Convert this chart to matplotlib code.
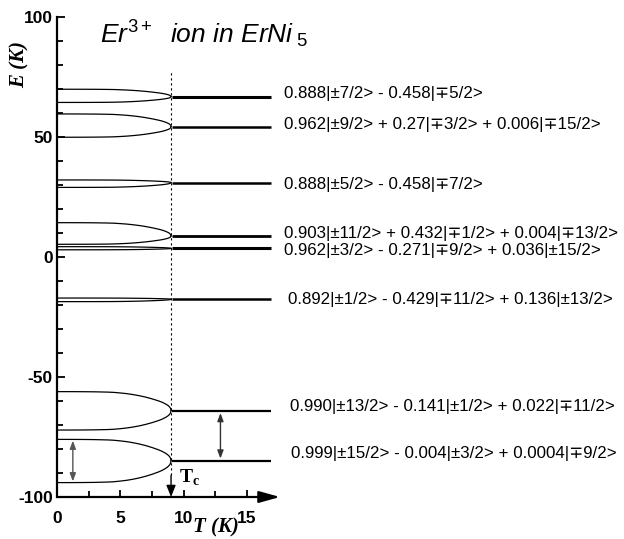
# Crystal-field levels of Er3+ in ErNi5 vs temperature

import numpy as np
from matplotlib import pyplot as plt

plt.rcParams['mathtext.fontset'] = 'custom'
plt.rcParams['mathtext.it'] = 'Liberation Sans:italic'
plt.rcParams['mathtext.rm'] = 'Liberation Sans'
plt.rcParams['axes.unicode_minus'] = False

Tc = 9.0

# doublet energies above Tc (K)
levels = [66.8, 54.3, 31.0, 8.75, 3.6, -17.6, -64.0, -84.9]
# split branches at T = 0 (upper, lower)
split_upper = [69.9, 59.6, 32.1, 14.3, 4.3, -17.1, -56.1, -76.0]
split_lower = [64.4, 49.9, 29.0, 5.3, 3.0, -18.6, -72.1, -94.0]

# order-parameter profile
t_prof = [0, 1, 2, 3, 4, 4.5, 5, 5.5, 6, 6.5, 7, 7.5, 8, 8.3, 8.6, 8.8, 8.9, 8.97, 9.0]
m_prof = [1, 1, 0.997, 0.99, 0.975, 0.96, 0.93, 0.895, 0.845, 0.785, 0.71, 0.62,
          0.515, 0.44, 0.34, 0.25, 0.18, 0.1, 0.0]

labels = [
    '0.888|±7/2> - 0.458|∓5/2>',
    '0.962|±9/2> + 0.27|∓3/2> + 0.006|∓15/2>',
    '0.888|±5/2> - 0.458|∓7/2>',
    '0.903|±11/2> + 0.432|∓1/2> + 0.004|∓13/2>',
    '0.962|±3/2> - 0.271|∓9/2> + 0.036|±15/2>',
    '0.892|±1/2> - 0.429|∓11/2> + 0.136|±13/2>',
    '0.990|±13/2> - 0.141|±1/2> + 0.022|∓11/2>',
    '0.999|±15/2> - 0.004|±3/2> + 0.0004|∓9/2>',
]

# label placement (layout only)
label_x = [17.95, 17.95, 17.95, 17.95, 17.95, 18.27, 18.35, 18.5]
label_dy = [1.5, 0.7, -1.0, 1.2, -0.7, -0.3, 1.5, 3.2]
line_w = [2.2, 1.8, 1.8, 2.0, 2.2, 1.8, 1.6, 1.6]

fig = plt.figure(figsize=(6.24, 5.39), dpi=100)
ax = fig.add_axes([57 / 624, 42 / 539, 223 / 624, 480 / 539])

t = np.array(t_prof)
m = np.array(m_prof)
for i in range(len(levels)):
    c = levels[i]
    ax.plot(t, c + (split_upper[i] - c) * m, color='k', lw=0.9)
    ax.plot(t, c + (split_lower[i] - c) * m, color='k', lw=0.9)
    ax.plot([Tc + 0.1, 16.9], [c, c], color='k', lw=line_w[i], solid_capstyle='butt')
    ax.text(label_x[i], c + label_dy[i], labels[i], fontsize=12.2, va='center', ha='left',
            family=['Liberation Sans', 'DejaVu Sans'], clip_on=False)

# Tc marker
ax.plot([Tc, Tc], [-91, 77], color='k', lw=0.8, ls=(0, (2, 2.5)))
ax.annotate('', xy=(Tc, -100), xytext=(Tc, -91),
            arrowprops=dict(arrowstyle='-|>,head_length=0.5,head_width=0.2', color='k',
                            lw=1.0, shrinkA=0, shrinkB=0, mutation_scale=14))
ax.text(9.6, -91.5, r'T$_\mathregular{c}$', fontsize=14, fontweight='bold',
        family='Liberation Serif', va='center', ha='left')

# gap arrows
ax.annotate('', xy=(1.25, -93.5), xytext=(1.25, -76.5),
            arrowprops=dict(arrowstyle='<|-|>,head_length=0.4,head_width=0.15', color='#555555',
                            lw=1.0, shrinkA=0, shrinkB=0, mutation_scale=12))
ax.annotate('', xy=(12.9, -84), xytext=(12.9, -65),
            arrowprops=dict(arrowstyle='<|-|>,head_length=0.4,head_width=0.15', color='#333333',
                            lw=1.0, shrinkA=0, shrinkB=0, mutation_scale=12))

ax.set_xlim(0, 17.6)
ax.set_ylim(-100, 100)
ax.spines['top'].set_visible(False)
ax.spines['right'].set_visible(False)
ax.spines['bottom'].set_visible(False)
ax.spines['left'].set_linewidth(1.6)

# x axis with arrow head
ax.annotate('', xy=(1.0, 0), xytext=(0, 0), xycoords='axes fraction',
            arrowprops=dict(arrowstyle='-|>,head_length=0.9,head_width=0.25', color='k',
                            lw=1.6, shrinkA=0, shrinkB=0, mutation_scale=14))

ax.set_xticks([0, 5, 10, 15])
ax.set_xticks([2.5, 7.5, 12.5], minor=True)
ax.set_yticks([-100, -50, 0, 50, 100])
ax.set_yticks(np.arange(-90, 100, 10), minor=True)
ax.tick_params(axis='both', which='both', direction='in', width=1.3)
ax.tick_params(axis='y', which='major', length=6, pad=3)
ax.tick_params(axis='y', which='minor', length=4)
ax.tick_params(axis='x', which='major', length=5, pad=10)
ax.tick_params(axis='x', which='minor', length=4)
for lab in ax.get_xticklabels() + ax.get_yticklabels():
    lab.set_fontfamily('Liberation Sans')
    lab.set_fontweight('bold')
    lab.set_fontsize(12.5)

fig.text(20 / 624, 1 - 65 / 539, 'E (K)', rotation=90, ha='center', va='center',
         fontsize=15, fontweight='bold', fontstyle='italic', family='Liberation Serif')
fig.text(216 / 624, 1 - 527 / 539, 'T (K)', ha='center', va='center',
         fontsize=15, fontweight='bold', fontstyle='italic', family='Liberation Serif')
fig.text(100 / 624, 1 - 43 / 539, r'$Er^{3+}\ \ ion\ in\ ErNi_{\ 5}$', fontsize=19,
         ha='left', va='baseline')

fig.savefig('out.png', dpi=100)
